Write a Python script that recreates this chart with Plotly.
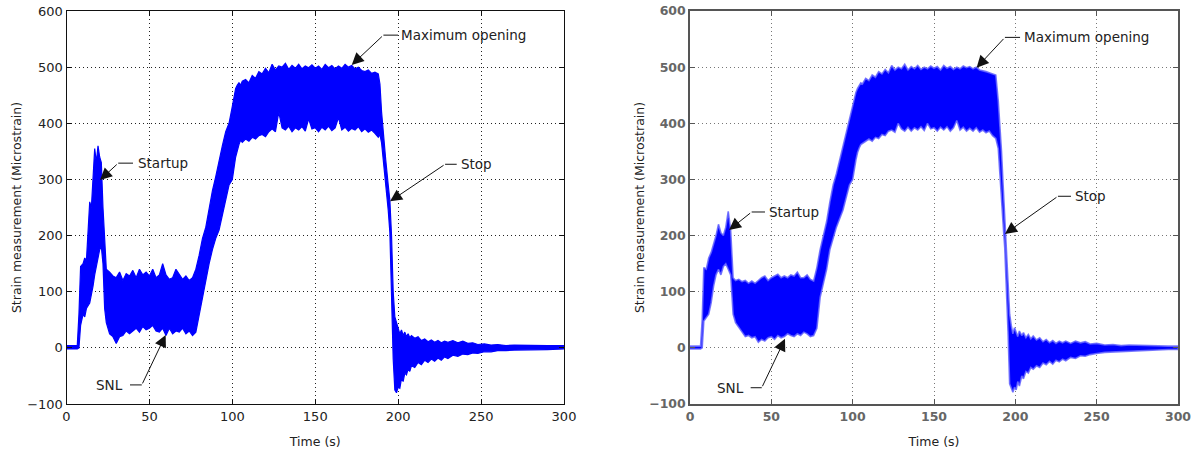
import plotly.graph_objects as go

# ---------------- data ----------------
# Left chart: envelope of the strain signal (upper / lower bounds), time in s
time_left = [0, 6.5, 7.5, 8.5, 10, 11, 12, 13, 14, 15, 16, 17, 18, 19, 20, 21, 22, 23, 24,
             26, 28, 30, 32, 34, 36, 38, 40, 42, 44, 46, 48, 50, 52, 54, 56, 58, 60, 62, 64,
             66, 68, 70, 72, 74, 76, 78, 80, 82, 84, 86, 88, 90, 92, 94, 96, 98,
             100, 101, 102, 103, 104, 105,
             106, 108, 110, 112, 114, 116, 118, 120, 122, 124, 126, 128, 130, 132, 134, 136,
             138, 140, 142, 144, 146, 148, 150, 152, 154, 156, 158, 160, 162, 164, 166, 168,
             170, 172, 174, 176, 178, 180, 182, 184, 186, 188,
             189, 190, 191, 192.5, 194, 195, 196,
             197, 198, 199, 200, 201, 202, 203, 204, 205, 206, 207, 208,
             210, 212, 214, 216, 218, 220, 222, 224, 226, 228, 230,
             233, 236, 239, 242, 245, 248, 252, 256, 260, 265, 270, 280, 290, 300]
upper_left = [4, 4, 60, 145, 150, 160, 155, 210, 260, 250, 310, 355, 330, 360, 340, 330, 250,
              200, 140, 135, 128, 125, 135, 120, 132, 128, 138, 125, 140, 130, 135, 128, 140,
              125, 130, 150, 130, 122, 125, 140, 130, 122, 128, 120, 125, 140, 165, 195, 215,
              250, 280, 305, 335, 360, 385, 400,
              430, 445, 462, 468, 472, 468,
              475, 478, 472, 485, 480, 492, 488, 498, 490, 505, 495, 502, 500, 507, 496, 503,
              498, 505, 497, 502, 499, 504, 498, 502, 496, 505, 499, 503, 497, 502, 498, 505,
              500, 503, 497, 500, 494, 492, 495, 489, 491, 488,
              470, 420, 380, 335, 290, 262, 200,
              100, 55, 45, 35, 25, 32, 22, 28, 20, 25, 18, 22,
              17, 20, 13, 16, 11, 14, 10, 13, 9, 12, 10,
              13, 9, 12, 8, 9, 6, 7, 5, 6, 4, 5, 4, 4, 4]
lower_left = [-2, -2, 0, 40, 60, 55, 70, 75, 80, 95, 110, 130, 150, 160, 175, 180, 150, 70,
              45, 25, 20, 8, 20, 22, 30, 25, 30, 35, 28, 38, 32, 35, 40, 30, 28, 35, 22, 35,
              25, 30, 28, 35, 25, 30, 22, 28, 60, 90, 120, 150, 175, 195, 210, 235, 265, 290,
              300, 320, 340, 350, 362, 370,
              366, 372, 368, 375, 372, 378, 380, 376, 385, 390, 385, 420, 392, 388, 395, 385,
              392, 388, 394, 386, 408, 390, 392, 385, 393, 388, 395, 387, 392, 410, 388, 393,
              386, 391, 388, 394, 385, 390, 384, 388, 382, 375,
              380, 365, 340, 295, 245, 205, 100,
              -20, -75, -80, -70, -72, -55, -60, -45, -48, -38, -42, -32,
              -35, -26, -30, -22, -26, -20, -24, -18, -22, -16, -19,
              -13, -15, -11, -12, -9, -10, -7, -7, -5, -5, -4, -3, -3, -2]

# Right chart: envelope of the strain signal (upper / lower bounds), time in s
time_right = [0, 6.5, 7.5, 8.5, 10, 11.5, 13, 14.5, 16, 17.5, 19, 20.5, 22, 23.5, 25, 26.5,
              28, 30, 32, 34, 36, 38, 40, 42, 44, 46, 48, 50, 52, 54, 56, 58, 60, 62, 64, 66,
              68, 70, 72, 74, 76, 78, 80, 82, 84, 86, 88, 90, 92, 94, 96, 98,
              100, 101, 102, 103, 104, 105,
              106, 108, 110, 112, 114, 116, 118, 120, 122, 124, 126, 128, 130, 132, 134, 136,
              138, 140, 142, 144, 146, 148, 150, 152, 154, 156, 158, 160, 162, 164, 166, 168,
              170, 172, 174, 176, 178, 180, 182, 184, 186, 188,
              189.5, 190.5, 191.5, 192.5, 193.5, 194.5, 195.5, 196.5,
              197.5, 198.5, 199.5, 200.5, 201.5, 202.5, 204, 205, 206.5, 208, 209.5, 211,
              213, 215, 217, 219, 221, 223, 225, 227, 229, 231,
              234, 237, 240, 243, 246, 250, 255, 260, 265, 270, 278, 286, 294, 300]
upper_right = [3, 3, 50, 143, 140, 160, 170, 185, 200, 220, 205, 200, 215, 243, 210, 125,
               120, 122, 118, 120, 115, 119, 115, 120, 125, 128, 120, 125, 128, 131, 125, 128,
               125, 130, 128, 135, 125, 125, 130, 122, 119, 143, 175, 200, 225, 260, 290, 310,
               335, 360, 385, 410,
               430, 442, 455, 462, 468, 472,
               470, 480, 476, 486, 482, 492, 488, 496, 490, 503, 495, 500, 497, 505, 495, 501,
               497, 503, 496, 500, 497, 502, 498, 501, 495, 503, 498, 501, 496, 500, 497, 502,
               499, 501, 497, 500, 495, 494, 492, 490, 488, 486,
               440, 397, 350, 290, 231, 170, 107, 60,
               40, 25, 36, 28, 20, 30, 22, 27, 18, 24, 16, 21,
               14, 18, 11, 15, 9, 13, 8, 12, 9, 12,
               8, 12, 9, 11, 7, 8, 5, 6, 4, 5, 4, 3, 3, 3]
lower_right = [-2, -2, 0, 48, 55, 60, 80, 110, 130, 140, 130, 145, 150, 140, 130, 60,
               45, 35, 28, 20, 22, 18, 20, 10, 15, 12, 18, 20, 15, 22, 18, 20, 25, 22, 20, 25,
               22, 28, 25, 20, 22, 35, 90, 115, 140, 175, 195, 215, 230, 245, 265, 290,
               300, 318, 335, 348, 356, 362,
               365, 368, 372, 368, 375, 373, 380, 378, 386, 388, 384, 400, 390, 386, 393, 386,
               392, 388, 394, 387, 400, 390, 392, 386, 393, 388, 394, 386, 392, 405, 388, 393,
               386, 391, 386, 392, 384, 388, 383, 386, 378, 373,
               355, 320, 267, 220, 178, 110, 30, -64,
               -72, -79, -70, -75, -60, -68, -50, -55, -42, -45, -35, -38,
               -32, -35, -27, -30, -24, -29, -22, -25, -20, -23,
               -17, -19, -14, -15, -12, -10, -8, -7, -6, -5, -4, -4, -3, -3]

assert len(time_left) == len(upper_left) == len(lower_left)
assert len(time_right) == len(upper_right) == len(lower_right)

x_ticks = [0, 50, 100, 150, 200, 250, 300]
y_ticks = [-100, 0, 100, 200, 300, 400, 500, 600]

# annotations: (label, head_t, head_v, bend_t, bend_v, line_end_t, text_t, side)
notes_left = [
    ("Startup", 20.2, 299, 31.2, 329, 40.1, 41.9, "left"),
    ("Maximum opening", 172.0, 504, 191.1, 557, 199.9, 200.7, "left"),
    ("Stop", 195.1, 261, 228.3, 327, 235.3, 236.7, "left"),
    ("SNL", 59.8, 23, 45.4, -66, 38.3, 35.3, "right"),
]
notes_right = [
    ("Startup", 24.0, 210, 37.9, 242, 46.1, 47.2, "left"),
    ("Maximum opening", 176.2, 499, 193.6, 553, 202.9, 203.9, "left"),
    ("Stop", 193.6, 203, 226.2, 270, 234.2, 235.6, "left"),
    ("SNL", 58.4, 16, 44.1, -71, 37.3, 34.4, "right"),
]

# ---------------- figure ----------------
BLUE = "#0000ff"
fig = go.Figure()

def add_band(t, up, lo, xa, ya, edge, ew):
    fig.add_trace(go.Scatter(
        x=list(t) + list(t)[::-1], y=list(up) + list(lo)[::-1],
        fill="toself", fillcolor=BLUE, mode="lines",
        line=dict(color=edge, width=ew), xaxis=xa, yaxis=ya,
        hoverinfo="skip", showlegend=False))

add_band(time_left, upper_left, lower_left, "x", "y", BLUE, 1.2)
add_band(time_right, upper_right, lower_right, "x2", "y2", "rgba(100,100,255,0.85)", 1.6)

ydom = [1 - 404 / 452, 1 - 11 / 452]

def axis_style(dom, color, gridcolor, tickfont, linew, rng, ticks, title, standoff):
    return dict(domain=dom, range=rng, tickvals=ticks, ticks="inside", ticklen=5,
                tickcolor=color, showline=True, linecolor=color, linewidth=linew,
                mirror="allticks", showgrid=True, gridcolor=gridcolor, gridwidth=1,
                griddash="1px,3px", zeroline=False, tickfont=tickfont, automargin=False,
                title=dict(text=title, font=dict(family="DejaVu Sans", size=12.5, color="#222"),
                           standoff=standoff))

lf = dict(family="DejaVu Sans", size=13, color="#222")
rf = dict(family="DejaVu Sans", size=12.5, color="#666", weight="bold")

fig.update_layout(
    width=1195, height=452, margin=dict(l=0, r=0, t=0, b=0, autoexpand=False),
    paper_bgcolor="white", plot_bgcolor="white",
    xaxis=axis_style([66.5 / 1195, 564 / 1195], "#111", "#222", lf, 1, [0, 300], x_ticks, "Time (s)", 14),
    yaxis=axis_style(ydom, "#111", "#222", lf, 1, [-100, 600], y_ticks,
                     "Strain measurement (Microstrain)", 2),
    xaxis2=axis_style([690 / 1195, 1178 / 1195], "#555", "#777", rf, 1.5, [0, 300], x_ticks, "Time (s)", 14),
    yaxis2=axis_style(ydom, "#555", "#777", rf, 1.5, [-100, 600], y_ticks,
                      "Strain measurement (Microstrain)", 2),
)
fig.layout.xaxis.anchor = "y"
fig.layout.yaxis.anchor = "x"
fig.layout.xaxis2.anchor = "y2"
fig.layout.yaxis2.anchor = "x2"

def add_notes(notes, xr, yr, txtcolor):
    for label, ht, hv, bt, bv, lt, tt, side in notes:
        fig.add_annotation(x=ht, y=hv, ax=bt, ay=bv, xref=xr, yref=yr, axref=xr, ayref=yr,
                           text="", showarrow=True, arrowhead=2, arrowsize=2.4,
                           arrowwidth=1, arrowcolor="#111", standoff=0, startstandoff=0)
        fig.add_shape(type="line", x0=bt, y0=bv, x1=lt, y1=bv, xref=xr, yref=yr,
                      line=dict(color="#111", width=1))
        fig.add_annotation(x=tt, y=bv, xref=xr, yref=yr, text=label, showarrow=False,
                           xanchor="left" if side == "left" else "right", yanchor="middle",
                           font=dict(family="DejaVu Sans", size=13.5, color=txtcolor))

add_notes(notes_left, "x", "y", "#222")
add_notes(notes_right, "x2", "y2", "#222")

fig.write_html("out.html")
